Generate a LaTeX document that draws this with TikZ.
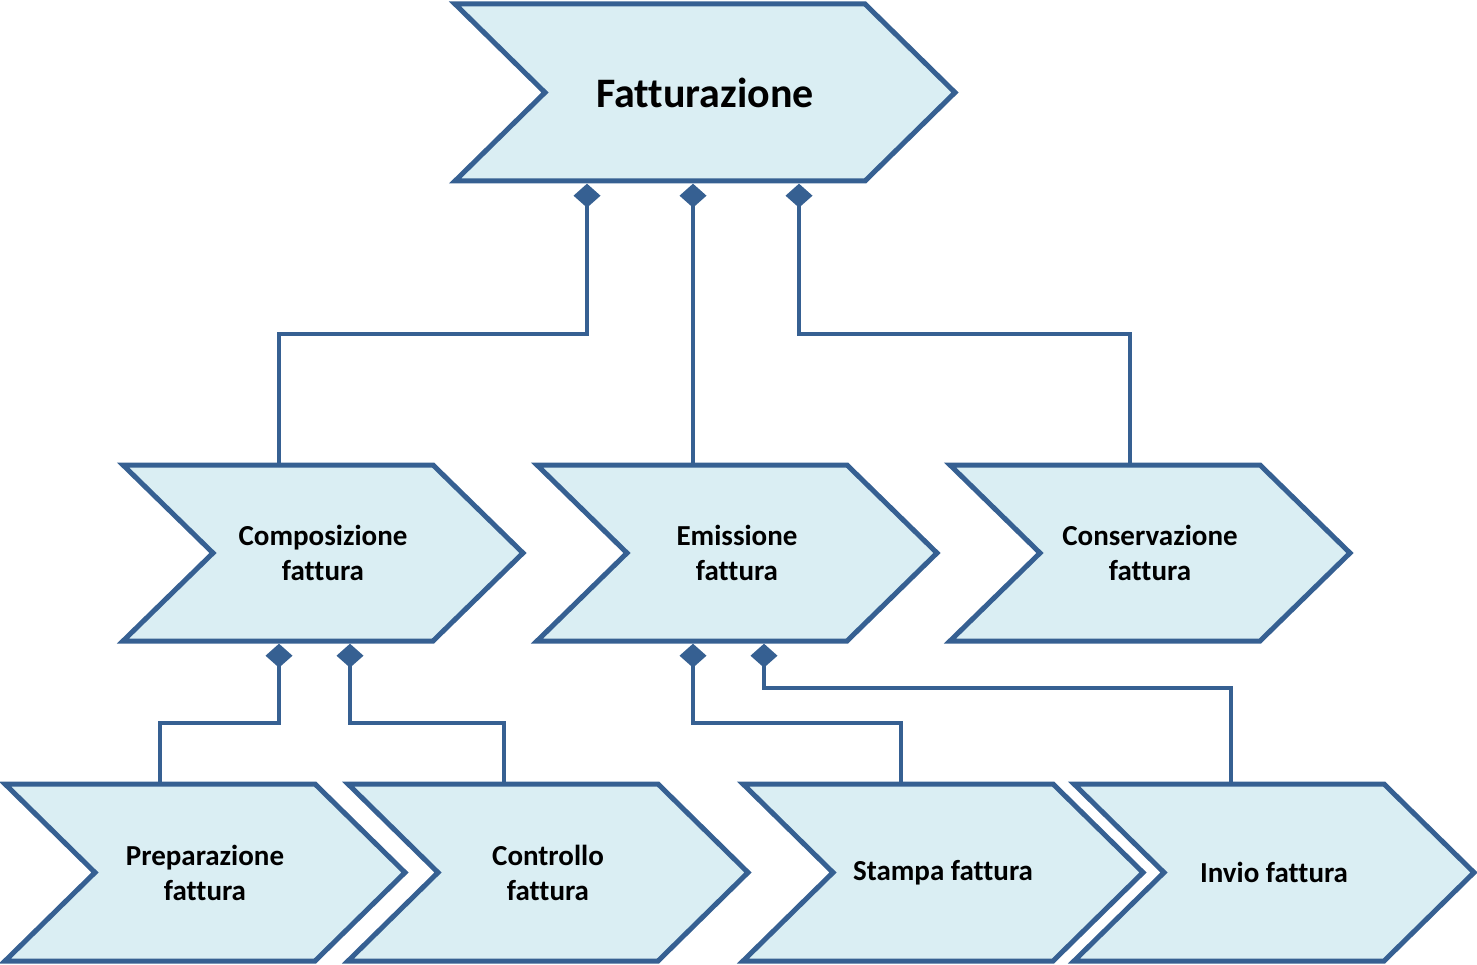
\documentclass[tikz,border=0pt]{standalone}
\usepackage{fontspec}
\setmainfont{Carlito}[Ligatures=NoCommon]
\usetikzlibrary{arrows.meta}
\definecolor{chevline}{HTML}{366092}
\definecolor{chevfill}{HTML}{DAEEF3}
\tikzset{
  chev/.style={draw=chevline, fill=chevfill, line width=5pt, line join=miter},
  chevtext/.style={inner sep=0pt, align=center, font=\bfseries\fontsize{29}{35}\selectfont},
  link/.style={draw=chevline, line width=4.5pt, -{Diamond[length=24pt,width=27pt]}},
}
\begin{document}
\begin{tikzpicture}[x=1pt,y=-1pt]
\useasboundingbox (0,0) rectangle (1477,965);
% main process
\draw[chev] (455,4) -- ++(410,0) -- ++(90,88.5) -- ++(-90,88.5) -- ++(-410,0) -- ++(90,-88.5) -- cycle;
\node[chevtext, font=\bfseries\fontsize{42}{50}\selectfont, minimum width=500pt, minimum height=177pt] (fatt) at (705,92.5) {Fatturazione};
% sub processes
\foreach \n/\l/\tp/\h/\txt in {comp/123/465/176/{Composizione\\fattura},
    emis/537/465/176/{Emissione\\fattura}, cons/950/465/176/{Conservazione\\fattura},
    prep/5/784/177/{Preparazione\\fattura}, ctrl/348/784/177/{Controllo\\fattura},
    stam/743/784/177/{Stampa fattura}, invi/1074/784/177/{Invio fattura}}{
  \draw[chev] (\l,\tp) -- ++(310,0) -- ++(90,\h/2) -- ++(-90,\h/2) -- ++(-310,0) -- ++(90,-\h/2) -- cycle;
  \node[chevtext, minimum width=400pt, minimum height=\h pt] (\n) at (\l+200,\tp+\h/2) {\txt};
}
% diamond ends
\coordinate (fa) at ([xshift=-118pt,yshift=-2.5pt]fatt.south);
\coordinate (fb) at ([xshift=-12pt,yshift=-2.5pt]fatt.south);
\coordinate (fc) at ([xshift=94pt,yshift=-2.5pt]fatt.south);
\coordinate (ca) at ([xshift=-44pt,yshift=-2.5pt]comp.south);
\coordinate (cb) at ([xshift=27pt,yshift=-2.5pt]comp.south);
\coordinate (ea) at ([xshift=-44pt,yshift=-2.5pt]emis.south);
\coordinate (eb) at ([xshift=27pt,yshift=-2.5pt]emis.south);
% connectors
\draw[link] ([xshift=-44pt]comp.north) -- ++(0,-131) -| (fa);
\draw[link] ([xshift=-44pt]emis.north) -- (fb);
\draw[link] ([xshift=-20pt]cons.north) -- ++(0,-131) -| (fc);
\draw[link] ([xshift=-45pt]prep.north) -- ++(0,-61) -| (ca);
\draw[link] ([xshift=-44pt]ctrl.north) -- ++(0,-61) -| (cb);
\draw[link] ([xshift=-42pt]stam.north) -- ++(0,-61) -| (ea);
\draw[link] ([xshift=-43pt]invi.north) -- ++(0,-96) -| (eb);
\end{tikzpicture}
\end{document}
